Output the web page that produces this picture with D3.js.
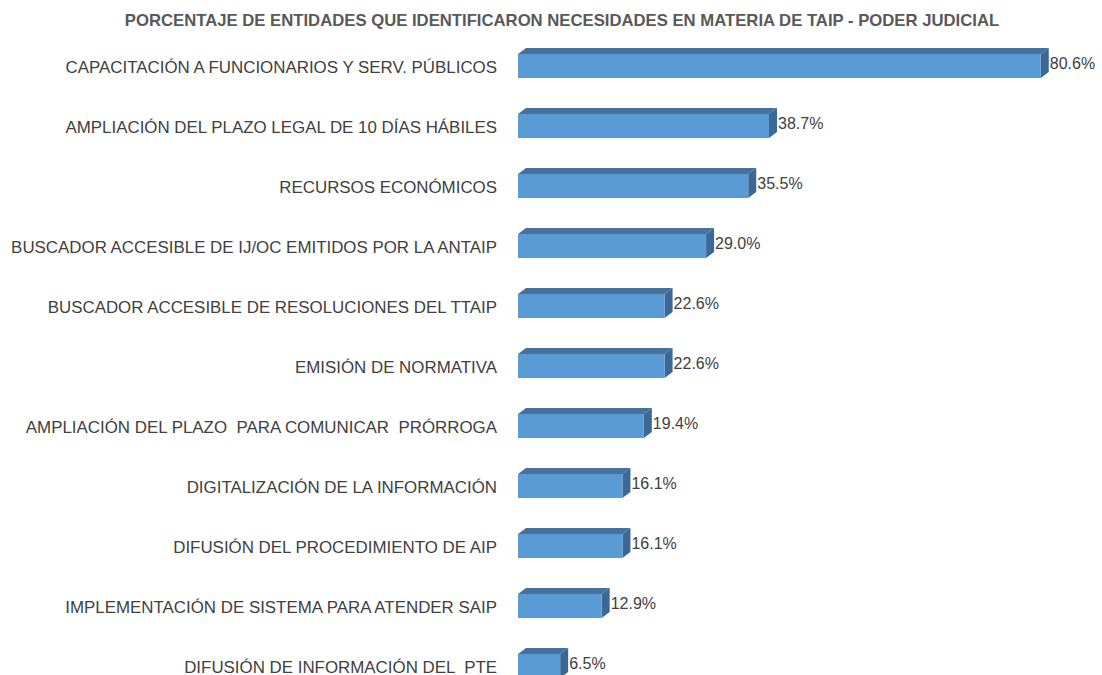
<!DOCTYPE html>
<html>
<head>
<meta charset="utf-8">
<script src="https://cdn.jsdelivr.net/npm/d3@7"></script>
<style>
  body { margin: 0; background: #fff; }
  svg { display: block; }
</style>
</head>
<body>
<svg id="chart"></svg>
<script>
var w = 1102;
var h = 675;

var title = 'PORCENTAJE DE ENTIDADES QUE IDENTIFICARON NECESIDADES EN MATERIA DE TAIP - PODER JUDICIAL';

var categories = [
  'CAPACITACIÓN A FUNCIONARIOS Y SERV. PÚBLICOS',
  'AMPLIACIÓN DEL PLAZO LEGAL DE 10 DÍAS HÁBILES',
  'RECURSOS ECONÓMICOS',
  'BUSCADOR ACCESIBLE DE IJ/OC EMITIDOS POR LA ANTAIP',
  'BUSCADOR ACCESIBLE DE RESOLUCIONES DEL TTAIP',
  'EMISIÓN DE NORMATIVA',
  'AMPLIACIÓN DEL PLAZO  PARA COMUNICAR  PRÓRROGA',
  'DIGITALIZACIÓN DE LA INFORMACIÓN',
  'DIFUSIÓN DEL PROCEDIMIENTO DE AIP',
  'IMPLEMENTACIÓN DE SISTEMA PARA ATENDER SAIP',
  'DIFUSIÓN DE INFORMACIÓN DEL  PTE'
];
var values = [80.6, 38.7, 35.5, 29.0, 22.6, 22.6, 19.4, 16.1, 16.1, 12.9, 6.5];

var dx = 8;   // depth to the right
var dy = 6;   // depth upward

var svg = d3.select('#chart').attr('width', w).attr('height', h);

var x = d3.scaleLinear().domain([0, 100]).range([518, 518 + 648.6]);
var y = d3.scaleBand().domain(categories).range([36, 696]).paddingInner(0.6).paddingOuter(0.3);

svg.append('text')
  .attr('x', 562)
  .attr('y', 22)
  .attr('text-anchor', 'middle')
  .attr('dominant-baseline', 'middle')
  .style('font-family', '"Liberation Sans Narrow", "Liberation Sans", Arial, sans-serif')
  .style('font-weight', 'bold')
  .style('font-size', '16.7px')
  .style('fill', '#595959')
  .text(title);

var bars = svg.selectAll('g.bar')
  .data(values)
  .enter()
  .append('g')
  .attr('class', 'bar');

// top face
bars.append('path')
  .attr('d', function (d, i) {
    var x0 = x(0), x1 = x(d), y0 = y(categories[i]);
    return 'M' + x0 + ',' + y0 + 'L' + (x0 + dx) + ',' + (y0 - dy) +
      'L' + (x1 + dx) + ',' + (y0 - dy) + 'L' + x1 + ',' + y0 + 'Z';
  })
  .style('fill', '#4473A1');

// side face
bars.append('path')
  .attr('d', function (d, i) {
    var x1 = x(d), y0 = y(categories[i]), y1 = y0 + y.bandwidth();
    return 'M' + x1 + ',' + y0 + 'L' + (x1 + dx) + ',' + (y0 - dy) +
      'L' + (x1 + dx) + ',' + (y1 - dy) + 'L' + x1 + ',' + y1 + 'Z';
  })
  .style('fill', '#3C6893');

// front face
bars.append('rect')
  .attr('x', x(0))
  .attr('y', function (d, i) { return y(categories[i]); })
  .attr('width', function (d) { return x(d) - x(0); })
  .attr('height', y.bandwidth())
  .style('fill', '#5B9BD5');

// value labels
svg.selectAll('text.val')
  .data(values)
  .enter()
  .append('text')
  .attr('class', 'val')
  .attr('x', function (d) { return x(d) + dx + 1; })
  .attr('y', function (d, i) { return y(categories[i]) + y.bandwidth() / 2 - 1; })
  .attr('dominant-baseline', 'middle')
  .style('font-family', '"Liberation Sans", Arial, sans-serif')
  .style('font-size', '16px')
  .style('fill', '#404040')
  .text(function (d) { return d.toFixed(1) + '%'; });

// category labels
svg.selectAll('text.cat')
  .data(categories)
  .enter()
  .append('text')
  .attr('class', 'cat')
  .attr('x', 497)
  .attr('y', function (d) { return y(d) + y.bandwidth() / 2 + 3; })
  .attr('text-anchor', 'end')
  .attr('dominant-baseline', 'middle')
  .style('font-family', '"Liberation Sans", Arial, sans-serif')
  .style('font-size', '16.9px')
  .style('fill', '#404040')
  .style('white-space', 'pre')
  .text(function (d) { return d; });
</script>
</body>
</html>
